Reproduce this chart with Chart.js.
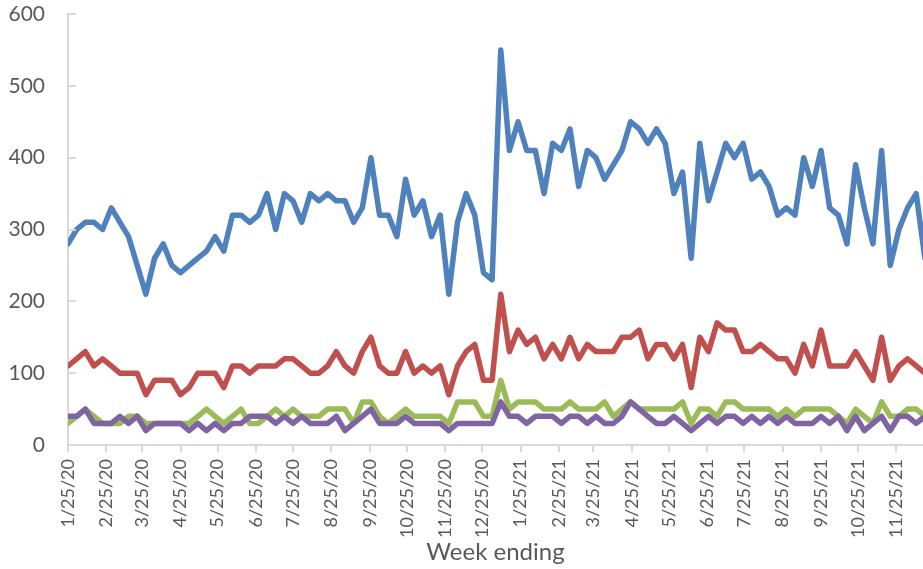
<!DOCTYPE html>
<html>
<head>
<meta charset="utf-8">
<script src="https://cdn.jsdelivr.net/npm/chart.js@4"></script>
<style>
  body { margin: 0; background: #fff; }
  #wrap { width: 923px; height: 569px; position: relative; }
</style>
</head>
<body>
<div id="wrap"><canvas id="weekly_chart"></canvas></div>
<script>
// weekly values, first week ending 1/25/20
const blue_values = [280, 300, 310, 310, 300, 330, 310, 290, 250, 210,
  260, 280, 250, 240, 250, 260, 270, 290, 270, 320,
  320, 310, 320, 350, 300, 350, 340, 310, 350, 340,
  350, 340, 340, 310, 330, 400, 320, 320, 290, 370,
  320, 340, 290, 320, 210, 310, 350, 320, 240, 230,
  550, 410, 450, 410, 410, 350, 420, 410, 440, 360,
  410, 400, 370, 390, 410, 450, 440, 420, 440, 420,
  350, 380, 260, 420, 340, 380, 420, 400, 420, 370,
  380, 360, 320, 330, 320, 400, 360, 410, 330, 320,
  280, 390, 330, 280, 410, 250, 300, 330, 350, 260];
const red_values = [110, 120, 130, 110, 120, 110, 100, 100, 100, 70,
  90, 90, 90, 70, 80, 100, 100, 100, 80, 110,
  110, 100, 110, 110, 110, 120, 120, 110, 100, 100,
  110, 130, 110, 100, 130, 150, 110, 100, 100, 130,
  100, 110, 100, 110, 70, 110, 130, 140, 90, 90,
  210, 130, 160, 140, 150, 120, 140, 120, 150, 120,
  140, 130, 130, 130, 150, 150, 160, 120, 140, 140,
  120, 140, 80, 150, 130, 170, 160, 160, 130, 130,
  140, 130, 120, 120, 100, 140, 110, 160, 110, 110,
  110, 130, 110, 90, 150, 90, 110, 120, 110, 100];
const green_values = [30, 40, 50, 40, 30, 30, 30, 40, 40, 30,
  30, 30, 30, 30, 30, 40, 50, 40, 30, 40,
  50, 30, 30, 40, 50, 40, 50, 40, 40, 40,
  50, 50, 50, 30, 60, 60, 40, 30, 40, 50,
  40, 40, 40, 40, 30, 60, 60, 60, 40, 40,
  90, 50, 60, 60, 60, 50, 50, 50, 60, 50,
  50, 50, 60, 40, 50, 60, 50, 50, 50, 50,
  50, 60, 30, 50, 50, 40, 60, 60, 50, 50,
  50, 50, 40, 50, 40, 50, 50, 50, 50, 40,
  30, 50, 40, 30, 60, 40, 40, 50, 50, 40];
const purple_values = [40, 40, 50, 30, 30, 30, 40, 30, 40, 20,
  30, 30, 30, 30, 20, 30, 20, 30, 20, 30,
  30, 40, 40, 40, 30, 40, 30, 40, 30, 30,
  30, 40, 20, 30, 40, 50, 30, 30, 30, 40,
  30, 30, 30, 30, 20, 30, 30, 30, 30, 30,
  60, 40, 40, 30, 40, 40, 40, 30, 40, 40,
  30, 40, 30, 30, 40, 60, 50, 40, 30, 30,
  40, 30, 20, 30, 40, 30, 40, 40, 30, 40,
  30, 40, 30, 40, 30, 30, 30, 40, 30, 40,
  20, 40, 20, 30, 40, 20, 40, 40, 30, 40];

const tick_labels = ["1/25/20", "2/25/20", "3/25/20", "4/25/20", "5/25/20", "6/25/20",
  "7/25/20", "8/25/20", "9/25/20", "10/25/20", "11/25/20", "12/25/20",
  "1/25/21", "2/25/21", "3/25/21", "4/25/21", "5/25/21", "6/25/21",
  "7/25/21", "8/25/21", "9/25/21", "10/25/21", "11/25/21"];
const y_ticks = [0, 100, 200, 300, 400, 500, 600];

// days since the first week, used as x
function daysFromStart(label) {
  const p = label.split("/");
  const t = Date.UTC(2000 + Number(p[2]), Number(p[0]) - 1, Number(p[1]));
  return Math.round((t - Date.UTC(2020, 0, 25)) / 86400000);
}
const tick_days = tick_labels.map(daysFromStart);

function toPoints(values) {
  return values.map((v, i) => ({ x: i * 7, y: v }));
}

const grey = "#d9d9d9";
const text_grey = "#595959";

// short tick marks drawn inside the plot along the y axis
const innerTicks = {
  id: "innerTicks",
  afterDraw(chart) {
    const y = chart.scales.y;
    const ctx = chart.ctx;
    ctx.save();
    ctx.strokeStyle = grey;
    ctx.lineWidth = 2;
    y_ticks.forEach(v => {
      const py = Math.round(y.getPixelForValue(v));
      ctx.beginPath();
      ctx.moveTo(chart.chartArea.left, py);
      ctx.lineTo(chart.chartArea.left + 8, py);
      ctx.stroke();
    });
    ctx.restore();
  }
};

function line(label, values, color, order) {
  return {
    label: label,
    data: toPoints(values),
    borderColor: color,
    backgroundColor: color,
    borderWidth: 5.5,
    borderJoinStyle: "round",
    borderCapStyle: "round",
    pointRadius: 0,
    tension: 0,
    order: order
  };
}

const ctx = document.getElementById("weekly_chart").getContext("2d");
new Chart(ctx, {
  type: "line",
  data: {
    datasets: [
      line("Series 1", blue_values, "#4f81bd", 3),
      line("Series 2", red_values, "#c0504d", 2),
      line("Series 3", green_values, "#9bbb59", 1),
      line("Series 4", purple_values, "#8064a2", 0)
    ]
  },
  options: {
    responsive: true,
    maintainAspectRatio: false,
    animation: false,
    layout: { padding: { top: 14, left: 0, right: 0, bottom: 0 } },
    plugins: { legend: { display: false }, tooltip: { enabled: false } },
    scales: {
      x: {
        type: "linear",
        min: 0,
        max: 691.5,
        afterBuildTicks: scale => {
          scale.ticks = tick_days.map(d => ({ value: d }));
        },
        afterFit: scale => {
          scale.height = 124;
          scale.paddingLeft = 0;
          scale.paddingRight = 0;
        },
        ticks: {
          autoSkip: false,
          maxRotation: 90,
          minRotation: 90,
          padding: 7,
          color: text_grey,
          font: { family: "Lato", size: 18 },
          callback: (value, index) => tick_labels[index]
        },
        grid: {
          drawOnChartArea: false,
          drawTicks: true,
          tickLength: 7,
          color: grey,
          lineWidth: 2
        },
        border: { color: grey, width: 2 },
        title: {
          display: true,
          text: "Week ending",
          color: text_grey,
          font: { family: "Lato", size: 24 },
          padding: { top: 0, bottom: 2 }
        }
      },
      y: {
        min: 0,
        max: 600,
        afterBuildTicks: scale => {
          scale.ticks = y_ticks.map(v => ({ value: v }));
        },
        afterFit: scale => {
          scale.width = 68;
          scale.paddingTop = 0;
          scale.paddingBottom = 0;
        },
        ticks: {
          padding: 23,
          color: text_grey,
          font: { family: "Lato", size: 21 }
        },
        grid: { display: false, drawTicks: false },
        border: { color: grey, width: 2 }
      }
    }
  },
  plugins: [innerTicks]
});
</script>
</body>
</html>
